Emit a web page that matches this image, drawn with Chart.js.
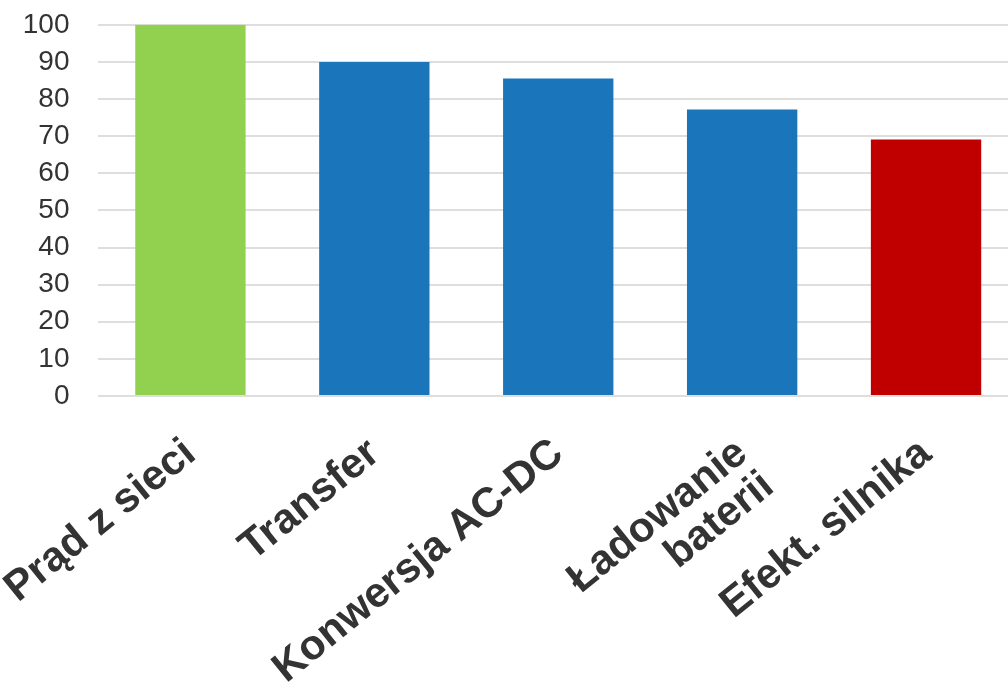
<!DOCTYPE html>
<html><head><meta charset="utf-8">
<script src="https://cdn.jsdelivr.net/npm/chart.js@4"></script>
<style>html,body{margin:0;padding:0;background:#fff;overflow:hidden}#wrap{width:1047px;height:709px;position:relative;margin-left:-27px;margin-top:-21px}</style>
</head><body><div id="wrap"><canvas id="c"></canvas></div>
<script>
const categories = ["Prąd z sieci", "Transfer", "Konwersja AC-DC", ["Ładowanie", "baterii"], "Efekt. silnika"];
const values = [100, 90, 85.5, 77.2, 69.1];
const barColors = ["#92d050", "#1b75bb", "#1b75bb", "#1b75bb", "#c00000"];
const yMin = 0, yMax = 100, yStep = 10;

new Chart(document.getElementById('c'), {
  type: 'bar',
  data: { labels: categories, datasets: [{ data: values, backgroundColor: barColors, categoryPercentage: 1, barPercentage: 0.6 }] },
  options: {
    responsive: true, maintainAspectRatio: false, animation: false,
    layout: { padding: { top: 0, right: 2, left: 0, bottom: 0 } },
    plugins: { legend: { display: false }, tooltip: { enabled: false } },
    scales: {
      x: {
        grid: { display: false }, border: { display: false },
        ticks: { color: '#333', font: { family: 'Liberation Sans', size: 42, weight: 'bold', lineHeight: 1.0 }, maxRotation: 39, minRotation: 39, padding: 28, autoSkip: false },
        afterFit: s => { s.height = 292; }
      },
      y: {
        min: yMin, max: yMax,
        grid: { color: '#dedede', lineWidth: 2, drawTicks: false },
        border: { display: false },
        ticks: { stepSize: yStep, autoSkip: false, color: '#333', font: { family: 'Liberation Sans', size: 28 }, padding: 29 },
        afterFit: s => { s.width = 98; }
      }
    }
  }
});
</script></body></html>
